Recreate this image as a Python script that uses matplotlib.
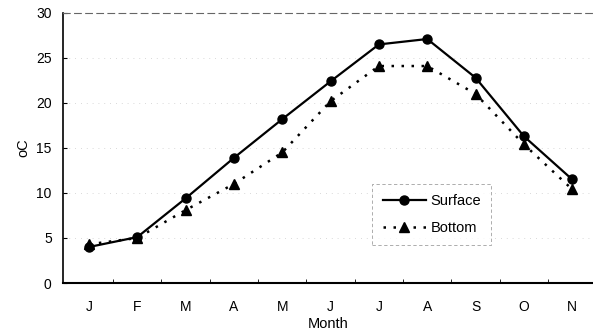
import matplotlib
matplotlib.use("Agg")
import matplotlib.pyplot as plt
import numpy as np

months = ["J", "F", "M", "A", "M", "J", "J", "A", "S", "O", "N"]
surface = [4.0, 5.1, 9.4, 13.9, 18.2, 22.4, 26.5, 27.1, 22.8, 16.3, 11.5]
bottom = [4.3, 5.0, 8.1, 11.0, 14.5, 20.2, 24.1, 24.1, 21.0, 15.4, 10.4]

plt.rcParams['font.family'] = ['Liberation Sans', 'DejaVu Sans']

fig = plt.figure(figsize=(5.93, 3.31), dpi=100)
ax = fig.add_axes([0.106, 0.145, 0.894, 0.816])

x = np.arange(len(months))
ax.plot(x, surface, color='black', linestyle='-', linewidth=1.6,
        marker='o', markersize=6.5, label='Surface')
ax.plot(x, bottom, color='black', linestyle=(0, (1, 3)), linewidth=1.8,
        marker='^', markersize=6.5, label='Bottom')

ax.set_xlim(-0.54, 10.43)
ax.set_ylim(0, 30)
ax.set_yticks(range(0, 31, 5))
ax.set_xticks(x)
ax.set_xticklabels(months)
ax.set_xticks(x[:-1] + 0.5, minor=True)
ax.tick_params(axis='x', which='major', length=0, pad=12, labelsize=10)
ax.tick_params(axis='x', which='minor', direction='in', length=3)
ax.tick_params(axis='y', direction='in', length=3, labelsize=10, pad=8)

# faint dotted grid like the scanned original
for yv in [5, 10, 15, 20, 25]:
    ax.axhline(yv, color='#cccccc', linestyle=(0, (1, 6)), linewidth=0.6, zorder=0)

ax.spines['right'].set_visible(False)
ax.spines['top'].set_linestyle((0, (6, 4)))
ax.spines['top'].set_color('#666666')
ax.spines['top'].set_linewidth(0.8)
ax.spines['left'].set_linewidth(1.2)
ax.spines['bottom'].set_linewidth(1.5)

ax.set_ylabel("oC", fontsize=10.5, labelpad=4)
ax.set_xlabel("Month", fontsize=10.5)
ax.xaxis.set_label_coords(0.5, -0.125)

leg = ax.legend(loc='upper left', bbox_to_anchor=(0.57, 0.395), fontsize=10.5,
                frameon=True, fancybox=False, edgecolor='#888888',
                handlelength=3, handletextpad=0.3, borderpad=0.7,
                labelspacing=0.9)
leg.get_frame().set_linewidth(0.6)
leg.get_frame().set_linestyle((0, (4, 3)))

fig.savefig("out.png", dpi=100)
